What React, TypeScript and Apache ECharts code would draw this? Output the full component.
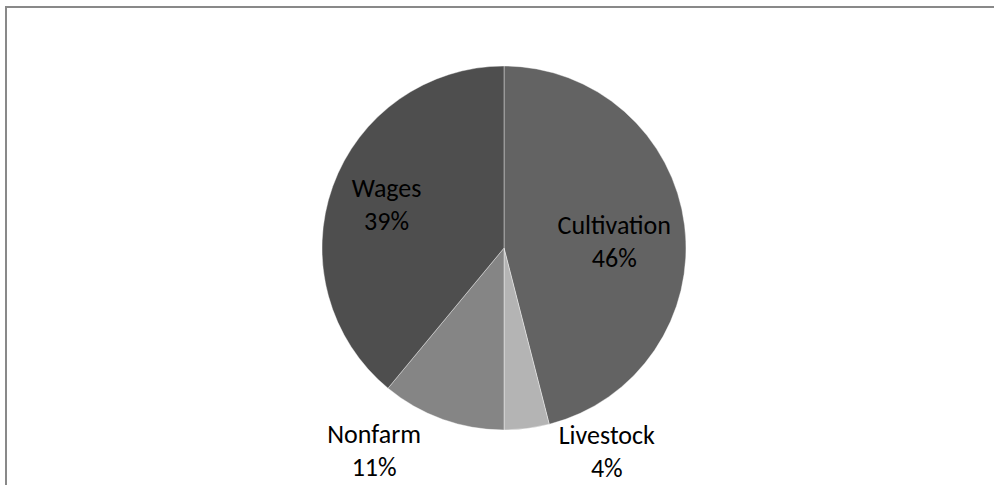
import React, { useEffect, useRef } from "react";
import * as echarts from "echarts";

const categories = ["Cultivation", "Livestock", "Nonfarm", "Wages"];
const values = [46, 4, 11, 39];
const colors = ["#636363", "#b4b4b4", "#858585", "#4e4e4e"];
const labelOffsets: [number, number][] = [
  [17, 5],
  [91, 110],
  [-98, 114],
  [-29, -12],
];

export default function App() {
  const ref = useRef<HTMLDivElement>(null);
  useEffect(() => {
    if (!ref.current) return;
    const chart = echarts.init(ref.current, null, { renderer: "svg" });
    chart.setOption({
      animation: false,
      backgroundColor: "#ffffff",
      graphic: [
        {
          type: "rect",
          shape: { x: 6, y: 7, width: 1100, height: 600 },
          style: { fill: "none", stroke: "#898989", lineWidth: 2 },
          silent: true,
        },
      ],
      series: [
        {
          type: "pie",
          center: [504, 248],
          radius: 182,
          startAngle: 90,
          clockwise: true,
          avoidLabelOverlap: false,
          labelLine: { show: false },
          itemStyle: { borderColor: "#ffffff", borderWidth: 0.4 },
          emphasis: { disabled: true },
          label: {
            show: true,
            position: "inside",
            formatter: "{b}\n{d}%",
            fontFamily: "Carlito, Lato, sans-serif",
            fontSize: 26,
            fontWeight: "normal",
            lineHeight: 33,
            color: "#000000",
            textBorderWidth: 0,
            align: "center",
          },
          data: categories.map((name, i) => ({
            name,
            value: values[i],
            itemStyle: { color: colors[i] },
            label: { offset: labelOffsets[i] },
          })),
        },
      ],
    });
    return () => chart.dispose();
  }, []);
  return (
    <div
      ref={ref}
      style={{ position: "absolute", left: 0, top: 0, width: 994, height: 485 }}
    />
  );
}
